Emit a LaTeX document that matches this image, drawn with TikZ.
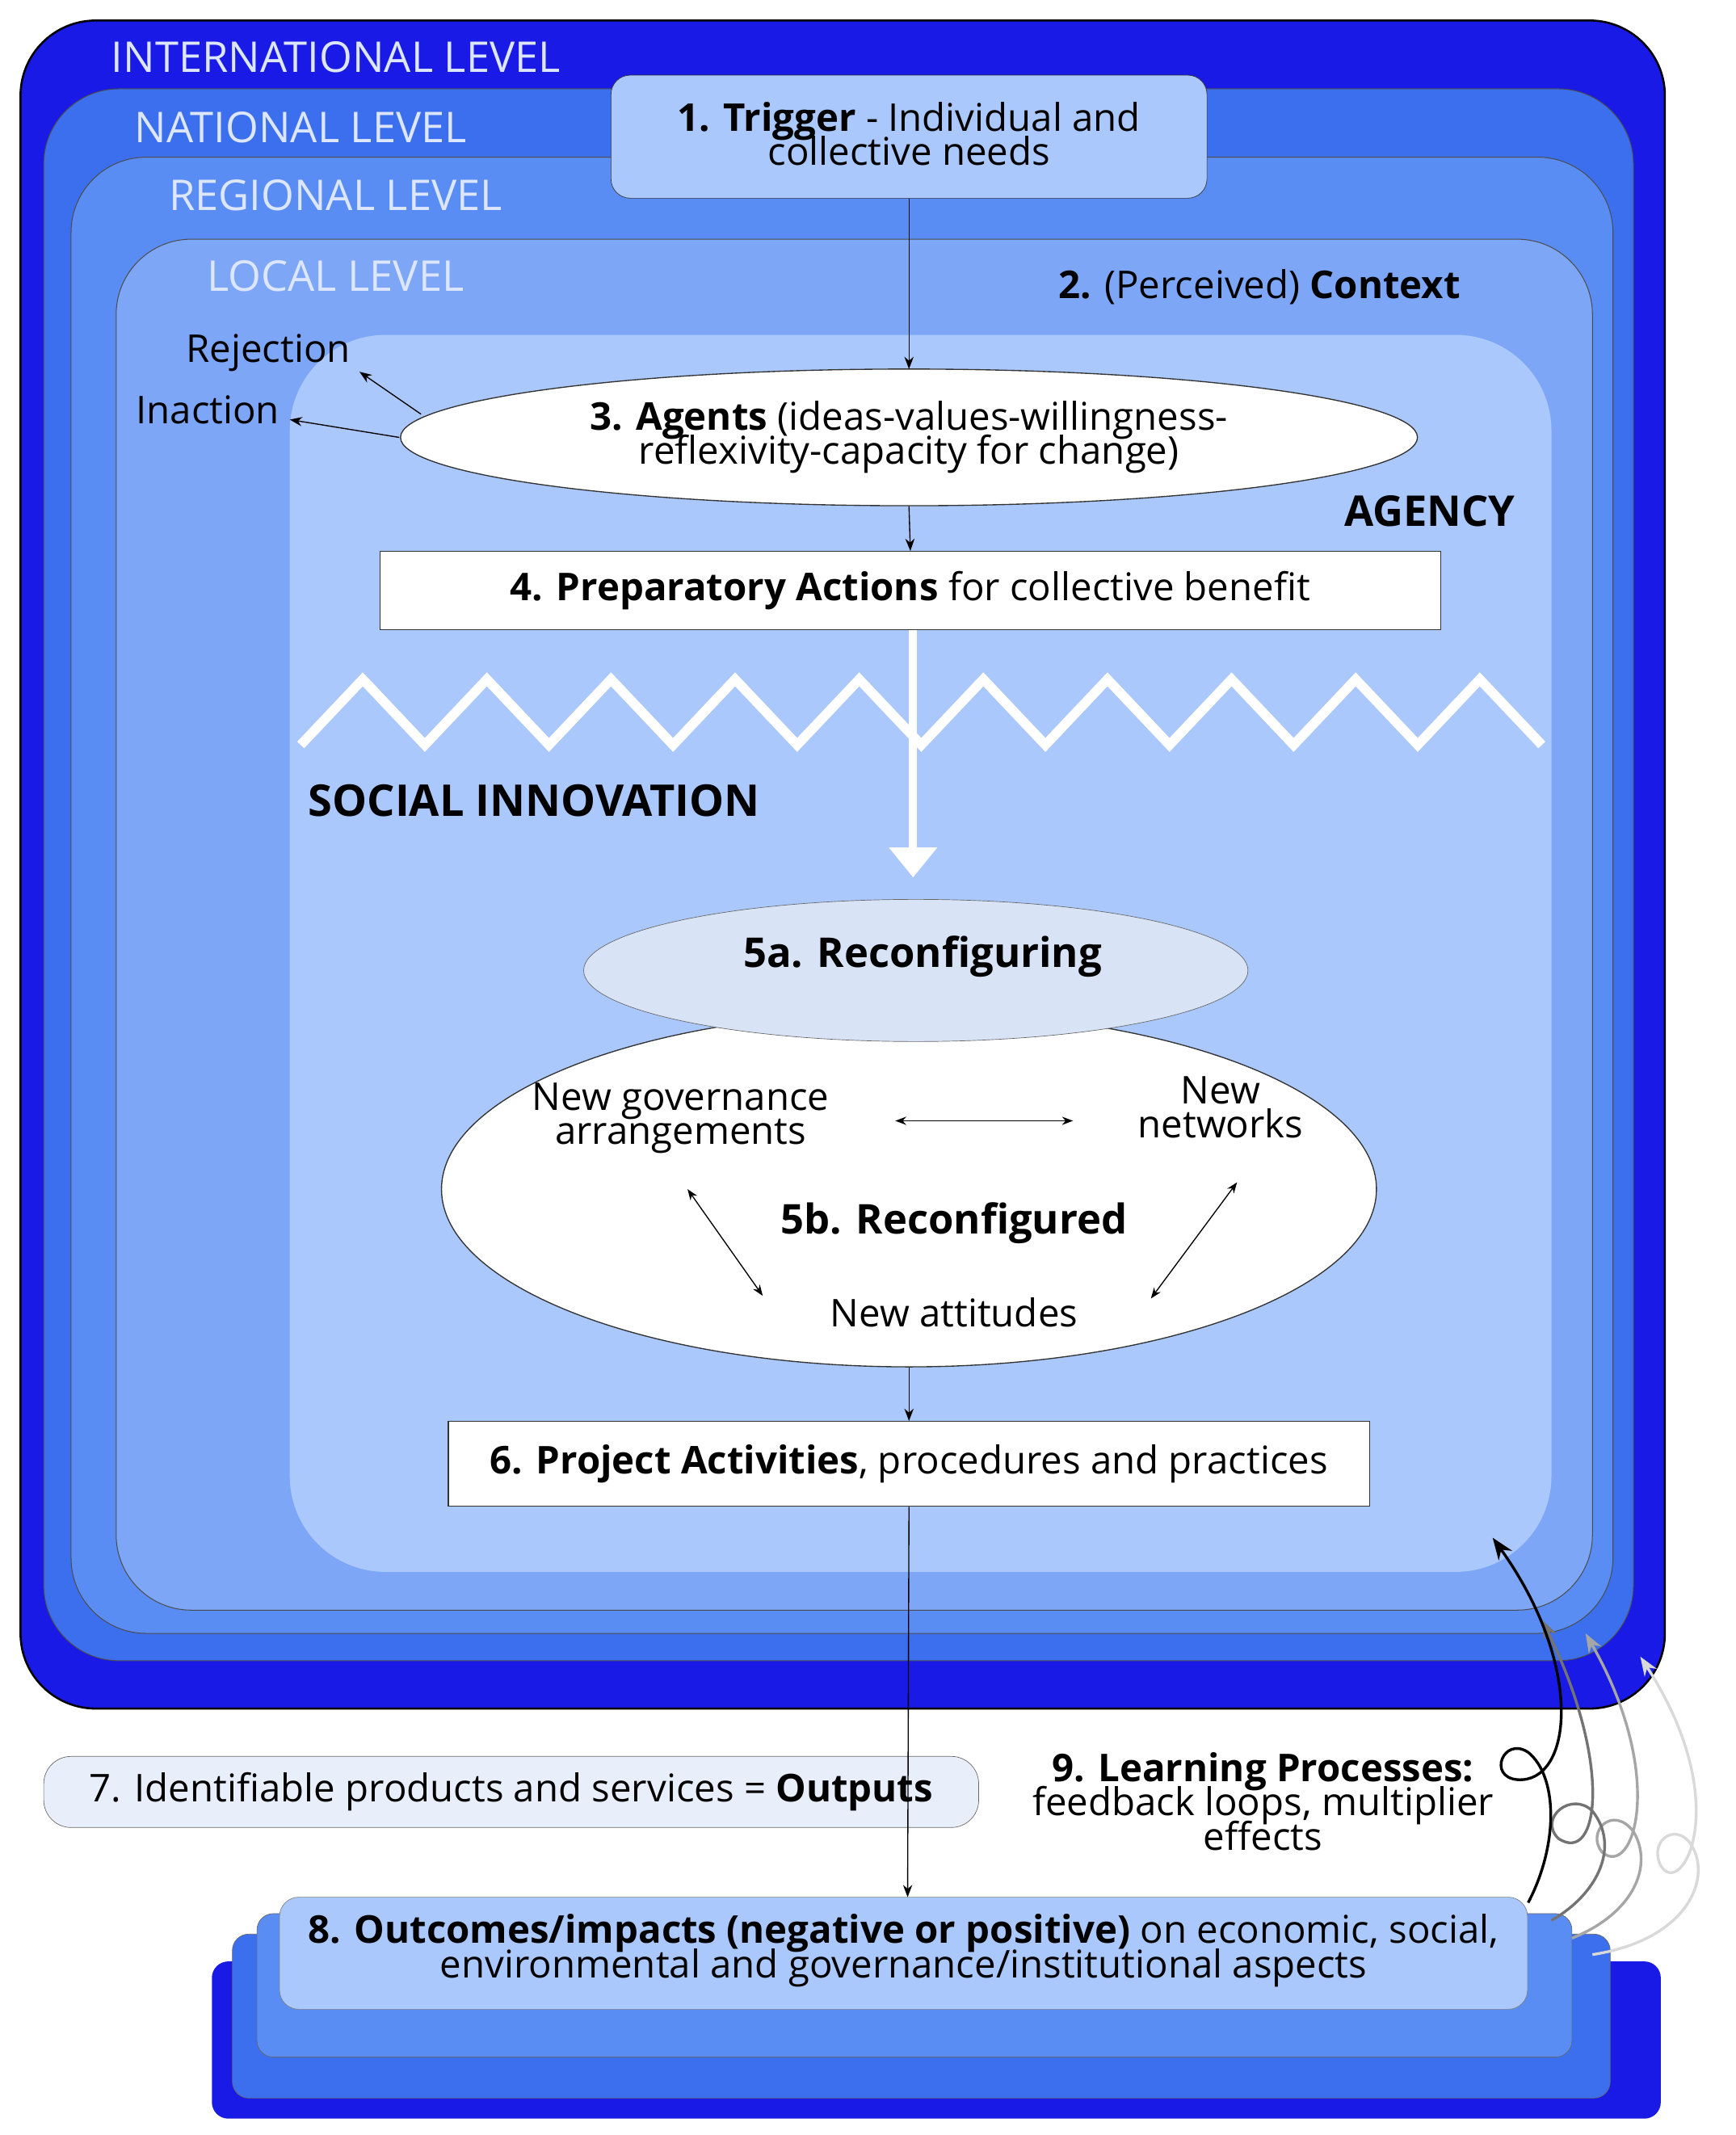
\documentclass[tikz,border=0pt]{standalone}
\usepackage{fontspec}
\setmainfont{Open Sans}
\usetikzlibrary{shapes.geometric,arrows.meta}
\definecolor{cA}{HTML}{1A1AE6}
\definecolor{cB}{HTML}{3B6FEE}
\definecolor{cC}{HTML}{5A8DF4}
\definecolor{cD}{HTML}{7DA6F7}
\definecolor{cE}{HTML}{AAC8FB}
\definecolor{cF}{HTML}{D8E3F6}
\definecolor{lab}{HTML}{DCE6FF}
\tikzset{
 lvl/.style={rounded corners=55pt,draw=black!70,line width=0.6pt},
 lvltxt/.style={text=lab,font=\fontsize{31}{33}\selectfont,anchor=west},
 txt/.style={font=\fontsize{28}{29}\selectfont,align=center},
 wbox/.style={draw=black!80,fill=white,line width=0.8pt},
 arr/.style={-{Stealth[length=9pt]},line width=0.8pt},
}
\begin{document}
\begin{tikzpicture}[x=1pt,y=-1pt]
\useasboundingbox (0,0) rectangle (1270,1562);
\fill[white] (0,0) rectangle (1270,1562);
% bottom stacks
\fill[cA,rounded corners=12pt] (155,1435) rectangle (1215,1550);
\draw[fill=cB,rounded corners=12pt,draw=black!60] (170,1415) rectangle (1178,1535);
\draw[fill=cC,rounded corners=12pt,draw=black!60] (188,1400) rectangle (1150,1505);
% levels
\draw[lvl,fill=cA,line width=1.5pt,draw=black] (15,15) rectangle (1218,1250);
\draw[lvl,fill=cB] (32,65) rectangle (1195,1215);
\draw[lvl,fill=cC] (52,115) rectangle (1180,1195);
\draw[lvl,fill=cD] (85,175) rectangle (1165,1178);
\fill[cE,rounded corners=70pt] (212,245) rectangle (1135,1150);
\node[lvltxt] (int) at (78,42) {INTERNATIONAL LEVEL};
\node[lvltxt] (nat) at (95,93) {NATIONAL LEVEL};
\node[lvltxt] (reg) at (120,143) {REGIONAL LEVEL};
\node[lvltxt] (loc) at (148,202) {LOCAL LEVEL};
% trigger
\node[draw=black!80,fill=cE,rounded corners=14pt,minimum width=436pt,minimum height=90pt] (t1) at (665,100) {};
\node[txt] (t1t) at (665,98) {\textbf{1. Trigger} - Individual and\\[-4pt]collective needs};
\node[txt,anchor=east] (ctx) at (1072,210) {\textbf{2.} (Perceived) \textbf{Context}};
% agents
\node[ellipse,wbox,minimum width=744pt,minimum height=100pt] (ag) at (665,320) {};
\node[txt] at (665,320) {\textbf{3. Agents} (ideas-values-willingness-\\[-4pt]reflexivity-capacity for change)};
\node[txt,anchor=east] (rej) at (260,258) {Rejection};
\node[txt,anchor=east] (ina) at (208,300) {Inaction};
\draw[arr] (308,303) -- (263,272);
\draw[arr] (292,320) -- (212,307);
\node[txt,anchor=east] (agc) at (1112,374) {\fontsize{31}{32}\selectfont\textbf{AGENCY}};
\draw[arr] (t1.south) -- (665,270);
% box 4
\node[wbox,minimum width=776pt,minimum height=57pt,txt] (b4) at (666,432) {\textbf{4. Preparatory Actions} for collective benefit};
\draw[arr] (ag.south) -- (b4.north);
% zigzag
\draw[white,line width=7pt,line join=miter] (220,545) \foreach \i in {1,...,20} {-- ({220+\i*45.4},{mod(\i,2)==1?497:545})};
\node[txt,anchor=west] (si) at (222,586) {\fontsize{32}{33}\selectfont\textbf{SOCIAL INNOVATION}};
\draw[white,line width=6pt,-{Triangle[length=22pt,width=34pt]}] (668,461) -- (668,642);
% 5b, 5a
\node[ellipse,wbox,minimum width=684pt,minimum height=260pt] (e5b) at (665,870) {};
\node[ellipse,draw=black!60,fill=cF,minimum width=486pt,minimum height=104pt] (e5a) at (670,710) {};
\node[txt] at (675,700) {\fontsize{30}{31}\selectfont\textbf{5a. Reconfiguring}};
\node[txt] (gov) at (498,818) {New governance\\[-4pt]arrangements};
\node[txt] (net) at (893,810) {New\\[-4pt]networks};
\node[txt] (att) at (698,960) {New attitudes};
\node[txt] at (698,895) {\fontsize{30}{31}\selectfont\textbf{5b. Reconfigured}};
\draw[{Stealth[length=8pt]}-{Stealth[length=8pt]},line width=0.8pt] (655,820) -- (785,820);
\draw[{Stealth[length=8pt]}-{Stealth[length=8pt]},line width=0.8pt] (503,870) -- (558,948);
\draw[{Stealth[length=8pt]}-{Stealth[length=8pt]},line width=0.8pt] (905,865) -- (842,950);
% box 6
\node[wbox,minimum width=674pt,minimum height=62pt,txt] (b6) at (665,1071) {\textbf{6. Project Activities}, procedures and practices};
\draw[arr] (e5b.south) -- (b6.north);
% output
\node[draw=black!60,fill=cF!60,rounded corners=20pt,minimum width=684pt,minimum height=52pt,txt] (b7) at (374,1311) {7. Identifiable products and services = \textbf{Outputs}};
% box 8
\node[draw=black!50,fill=cE,rounded corners=14pt,minimum width=913pt,minimum height=82pt] (b8) at (661,1429) {};
\node[txt] at (661,1427) {\textbf{8. Outcomes/impacts (negative or positive)} on economic, social,\\[-4pt]environmental and governance/institutional aspects};
\draw[arr] (b6.south) -- (664,1388);
% learning
\node[txt] (lp) at (924,1318) {\textbf{9. Learning Processes:}\\[-4pt]feedback loops, multiplier\\[-4pt]effects};
\draw[black!15,line width=2pt,-{Stealth[length=14pt]}] (1165,1430) .. controls (1230,1420) and (1250,1380) .. (1240,1355) .. controls (1230,1330) and (1205,1345) .. (1215,1365) .. controls (1230,1390) and (1270,1320) .. (1200,1212);
\draw[black!35,line width=2pt,-{Stealth[length=14pt]}] (1150,1418) .. controls (1195,1400) and (1210,1365) .. (1195,1340) .. controls (1180,1320) and (1160,1340) .. (1172,1355) .. controls (1195,1375) and (1220,1300) .. (1160,1195);
\draw[black!55,line width=2pt,-{Stealth[length=14pt]}] (1135,1405) .. controls (1170,1385) and (1185,1350) .. (1165,1325) .. controls (1150,1310) and (1125,1330) .. (1140,1345) .. controls (1170,1365) and (1180,1290) .. (1128,1185);
\draw[black,line width=2pt,-{Stealth[length=16pt]}] (1118,1392) .. controls (1140,1350) and (1140,1300) .. (1118,1282) .. controls (1100,1270) and (1088,1300) .. (1110,1302) .. controls (1150,1305) and (1160,1220) .. (1092,1125);
\end{tikzpicture}
\end{document}
